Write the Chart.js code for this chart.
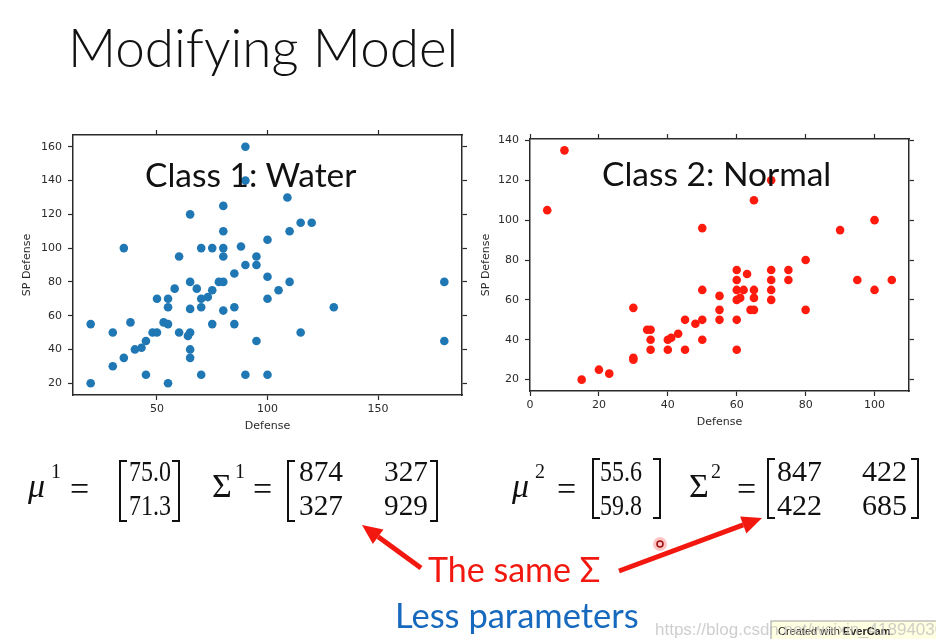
<!DOCTYPE html>
<html>
<head>
<meta charset="utf-8">
<script src="https://cdn.jsdelivr.net/npm/chart.js@4"></script>
<style>
  body { margin: 0; background: #fff; }
  #slide { position: relative; width: 936px; height: 639px; overflow: hidden; background: #fff; }
  canvas { position: absolute; }
  #ov { position: absolute; left: 0; top: 0; pointer-events: none; }
</style>
</head>
<body>
<div id="slide">
  <canvas id="waterChart" width="470" height="320" style="left:0;top:120px"></canvas>
  <canvas id="normalChart" width="455" height="320" style="left:470px;top:120px"></canvas>
  <svg id="ov" width="936" height="639" xmlns="http://www.w3.org/2000/svg">
    <text x="68" y="67" font-family="Lato" font-weight="300" font-size="53" fill="#111">Modifying Model</text>
    <text x="145" y="187" font-family="Lato" font-size="33.5" fill="#111">Class 1: Water</text>
    <text x="602" y="186" font-family="Lato" font-size="33.5" fill="#111">Class 2: Normal</text>
    <g id="formulas" font-family="Liberation Serif" fill="#111"></g>
    <g id="arrows" fill="#f2180f" stroke="#f2180f"></g>
    <text x="428" y="582" font-family="Lato" font-size="34" fill="#f2180f">The same Σ</text>
    <text x="395" y="628" font-family="Lato" font-size="34.5" fill="#1769bd">Less parameters</text>
    <circle cx="660" cy="544" r="7" fill="rgba(255,90,90,0.35)" stroke="none"></circle>
    <circle cx="660" cy="544" r="3" fill="none" stroke="#9a1010" stroke-width="1.5"></circle>
    <rect x="771" y="621" width="170" height="22" fill="#ffffe1" stroke="#a0a0a0"></rect>
    <text x="778" y="635" font-family="Liberation Sans" font-size="11" fill="#222">Created with <tspan font-weight="bold">EverCam</tspan>.</text>
    <text x="655" y="635" font-family="Liberation Sans" font-size="17" fill="rgba(190,190,190,0.75)">https://blog.csdn.net/weixin_41894030</text>
  </svg>
</div>
<script>
// Class 1: Water  (Defense, SP Defense)
const waterDefense = [35, 60, 65, 70, 75, 80, 80, 80, 80, 88,
  90, 90, 109, 115, 120, 110, 100, 95, 90, 95, 85,
  20, 20, 30, 30, 35, 38, 40, 43, 45, 45, 48, 50, 50, 53, 55, 55, 55, 55, 58,
  60, 64, 65, 65, 65, 65, 65, 68, 70, 70, 70, 73, 75, 75, 78, 80, 80, 85, 85,
  100, 110, 105, 100, 130, 115, 95, 180, 180, 90, 100];
const waterSpDefense = [100, 95, 120, 100, 100, 125, 100, 110, 95, 101,
  160, 140, 130, 115, 115, 110, 105, 95, 90, 90, 85,
  55, 20, 50, 30, 35, 56, 40, 41, 45, 25, 50, 50, 70, 56, 55, 70, 65, 20, 76,
  50, 48, 50, 80, 64, 40, 35, 76, 70, 65, 25, 71, 75, 55, 80, 80, 63, 65, 55,
  83, 80, 75, 70, 65, 50, 45, 45, 80, 25, 25];

// Class 2: Normal
const normalDefense = [5, 10, 50, 70, 65, 90, 100, 80, 60, 70, 75,
  15, 20, 23, 30, 30, 30, 34, 35, 35, 35, 40, 41, 40, 43, 45, 45, 48, 50, 50, 50,
  55, 55, 55, 60, 60, 60, 61, 60, 60, 63, 62, 65, 65, 64, 65, 70, 70, 70, 75, 80,
  95, 100, 105];
const normalSpDefense = [105, 135, 96, 120, 110, 95, 100, 80, 75, 75, 75,
  20, 25, 23, 56, 31, 30, 45, 45, 40, 35, 40, 41, 35, 43, 50, 35, 48, 50, 65, 40,
  62, 55, 50, 70, 65, 60, 61, 50, 35, 73, 65, 65, 61, 55, 55, 70, 65, 60, 70, 55,
  70, 65, 70];

const waterXTicks = [50, 100, 150];
const waterYTicks = [20, 40, 60, 80, 100, 120, 140, 160];
const normalXTicks = [0, 20, 40, 60, 80, 100];
const normalYTicks = [20, 40, 60, 80, 100, 120, 140];

const axisFont = { family: 'DejaVu Sans', size: 11 };
const ink = '#2a2a2a';

const toPoints = (xs, ys) => xs.map((x, i) => ({ x: x, y: ys[i] }));

function axis(position, range, tickValues, fit, extra) {
  return Object.assign({
    type: 'linear',
    position: position,
    min: range[0],
    max: range[1],
    afterBuildTicks: (a) => { a.ticks = tickValues.map(v => ({ value: v })); },
    afterFit: (a) => {
      if (a.isHorizontal()) a.height = fit; else a.width = fit;
    },
    grid: { drawOnChartArea: false, tickLength: 5, tickColor: ink, tickWidth: 1.2 },
    border: { display: true, color: ink, width: 1.5 },
    ticks: { display: false }
  }, extra || {});
}

function makeScatter(id, xs, ys, color, cfg) {
  const ctx = document.getElementById(id).getContext('2d');
  new Chart(ctx, {
    type: 'scatter',
    data: {
      datasets: [{
        data: toPoints(xs, ys),
        backgroundColor: color,
        borderWidth: 0,
        pointRadius: 4.3,
        pointHoverRadius: 4.3
      }]
    },
    options: {
      responsive: false,
      animation: false,
      layout: { padding: { top: cfg.padTop, right: cfg.padRight, left: 0, bottom: 0 } },
      plugins: { legend: { display: false }, tooltip: { enabled: false } },
      scales: {
        x: axis('bottom', cfg.xRange, cfg.xTicks, cfg.xHeight, {
          ticks: { display: true, font: axisFont, color: ink, padding: 3, maxRotation: 0, autoSkip: false },
          title: { display: true, text: 'Defense', font: axisFont, color: ink, padding: { top: 0, bottom: cfg.xTitlePad } }
        }),
        x2: axis('top', cfg.xRange, cfg.xTicks, 5),
        y: axis('left', cfg.yRange, cfg.yTicks, cfg.yWidth, {
          ticks: { display: true, font: axisFont, color: ink, padding: 6, autoSkip: false },
          title: { display: true, text: 'SP Defense', font: axisFont, color: ink, padding: { top: cfg.yTitlePad, bottom: 0 } }
        }),
        y2: axis('right', cfg.yRange, cfg.yTicks, 5)
      }
    }
  });
}

makeScatter('waterChart', waterDefense, waterSpDefense, '#1f77b4', {
  xRange: [12, 188], yRange: [13, 167], xTicks: waterXTicks, yTicks: waterYTicks,
  padTop: 10, padRight: 3, xHeight: 45, yWidth: 73, xTitlePad: 7, yTitlePad: 21
});

makeScatter('normalChart', normalDefense, normalSpDefense, '#ff1a0e', {
  xRange: [0, 110], yRange: [14.3, 140.7], xTicks: normalXTicks, yTicks: normalYTicks,
  padTop: 14, padRight: 11, xHeight: 49, yWidth: 60, xTitlePad: 11, yTitlePad: 10
});

// formulas and annotations
const SVGNS = 'http://www.w3.org/2000/svg';
const formulas = document.getElementById('formulas');

function txt(parent, s, x, y, size, opts) {
  const t = document.createElementNS(SVGNS, 'text');
  t.setAttribute('x', x);
  t.setAttribute('y', y);
  t.setAttribute('font-size', size);
  if (opts && opts.italic) t.setAttribute('font-style', 'italic');
  if (opts && opts.width) {
    t.setAttribute('textLength', opts.width);
    t.setAttribute('lengthAdjust', 'spacingAndGlyphs');
  }
  t.textContent = s;
  parent.appendChild(t);
}

function bracket(x, top, bottom, side) {
  const p = document.createElementNS(SVGNS, 'path');
  const w = side === 'left' ? 7 : -7;
  p.setAttribute('d', `M${x + w},${top} L${x},${top} L${x},${bottom} L${x + w},${bottom}`);
  p.setAttribute('fill', 'none');
  p.setAttribute('stroke', '#111');
  p.setAttribute('stroke-width', 2);
  formulas.appendChild(p);
}

function matrixFormula(sym, sup, x, rows, colX, colW, brL, brR, top, bottom) {
  txt(formulas, sym.text, x.sym, 497, 34, { italic: sym.italic });
  txt(formulas, sup, x.sup, 478, 20);
  txt(formulas, '=', x.eq, 500, 34);
  bracket(brL, top, bottom, 'left');
  bracket(brR, top, bottom, 'right');
  rows.forEach((row, r) => {
    row.forEach((v, c) => txt(formulas, v, colX[c], r === 0 ? 481 : 515, 30, { width: colW }));
  });
}

const mu1 = [['75.0'], ['71.3']];
const sigma1 = [['874', '327'], ['327', '929']];
const mu2 = [['55.6'], ['59.8']];
const sigma2 = [['847', '422'], ['422', '685']];

matrixFormula({ text: 'μ', italic: true }, '1', { sym: 28, sup: 51, eq: 70 }, mu1, [129], 42, 120, 179, 461, 521);
matrixFormula({ text: 'Σ', italic: false }, '1', { sym: 212, sup: 235, eq: 253 }, sigma1, [299, 384], 44, 288, 437, 461, 521);
matrixFormula({ text: 'μ', italic: true }, '2', { sym: 512, sup: 535, eq: 557 }, mu2, [600], 42, 593, 660, 459, 518);
matrixFormula({ text: 'Σ', italic: false }, '2', { sym: 689, sup: 711, eq: 737 }, sigma2, [777, 862], 45, 768, 918, 459, 518);

const arrows = document.getElementById('arrows');
function arrow(x1, y1, x2, y2) {
  const dx = x2 - x1, dy = y2 - y1, len = Math.hypot(dx, dy);
  const ux = dx / len, uy = dy / len;
  const bx = x2 - 20 * ux, by = y2 - 20 * uy;
  const line = document.createElementNS(SVGNS, 'line');
  line.setAttribute('x1', x1); line.setAttribute('y1', y1);
  line.setAttribute('x2', bx); line.setAttribute('y2', by);
  line.setAttribute('stroke-width', 5);
  arrows.appendChild(line);
  const head = document.createElementNS(SVGNS, 'polygon');
  head.setAttribute('points', `${x2},${y2} ${bx - 9 * uy},${by + 9 * ux} ${bx + 9 * uy},${by - 9 * ux}`);
  head.setAttribute('stroke', 'none');
  arrows.appendChild(head);
}
arrow(421, 568, 362, 525);
arrow(619, 571, 762, 518);
</script>
</body>
</html>
